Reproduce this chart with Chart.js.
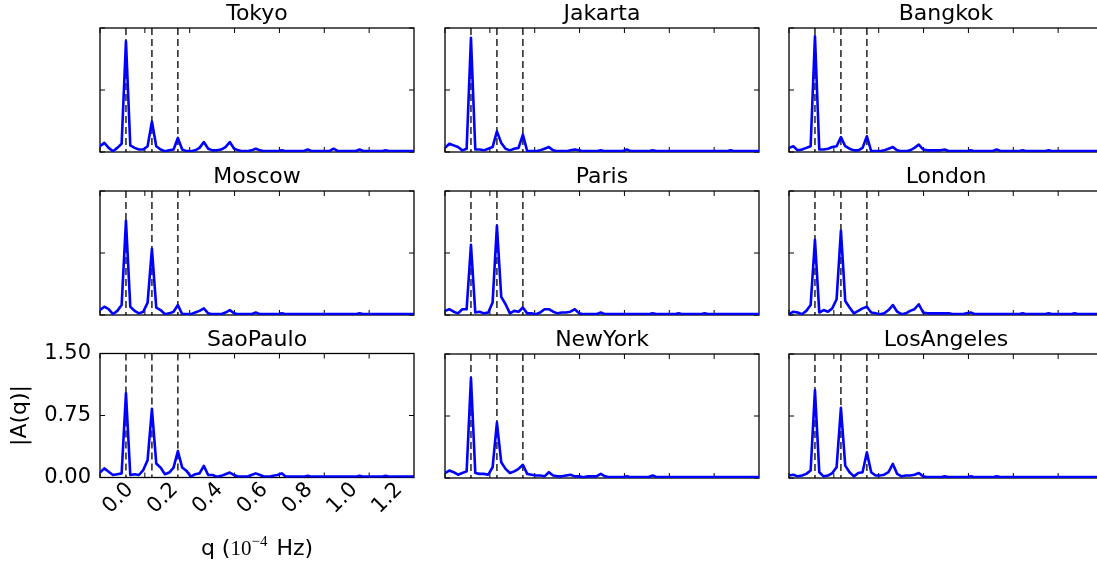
<!DOCTYPE html>
<html>
<head>
<meta charset="utf-8">
<script src="https://cdn.jsdelivr.net/npm/chart.js@4.4.0/dist/chart.umd.min.js"></script>
<style>
  html, body { margin: 0; padding: 0; background: #fff; overflow: hidden; }
  body { width: 1097px; height: 567px; position: relative; }
  canvas { position: absolute; }
</style>
</head>
<body>
<script>
// |A(q)| per city, one value per frequency bin (bin width = 1/6 cycle per day)
const cities = ['Tokyo', 'Jakarta', 'Bangkok', 'Moscow', 'Paris', 'London', 'SaoPaulo', 'NewYork', 'LosAngeles'];

const tokyo = [
    0.07, 0.11, 0.05, 0.01, 0.05, 0.10, 1.34, 0.08, 0.05, 0.03,
    0.03, 0.07, 0.37, 0.07, 0.03, 0.01, 0.02, 0.03, 0.17, 0.03,
    0.01, 0.01, 0.02, 0.05, 0.12, 0.04, 0.02, 0.02, 0.03, 0.06,
    0.12, 0.04, 0.02, 0.01, 0.01, 0.02, 0.04, 0.02, 0.01, 0.01,
    0.01, 0.01, 0.02, 0.01, 0.01, 0.01, 0.01, 0.01, 0.03, 0.01,
    0.01, 0.01, 0.01, 0.01, 0.04, 0.01, 0.01, 0.01, 0.01, 0.01,
    0.03, 0.01, 0.01, 0.01, 0.01, 0.01, 0.02, 0.01, 0.01, 0.01,
    0.01, 0.01, 0.01, 0.01
];
const jakarta = [
    0.05, 0.10, 0.08, 0.06, 0.02, 0.04, 1.38, 0.03, 0.03, 0.02,
    0.04, 0.06, 0.25, 0.11, 0.04, 0.02, 0.04, 0.05, 0.21, 0.01,
    0.01, 0.01, 0.02, 0.04, 0.06, 0.02, 0.01, 0.01, 0.01, 0.02,
    0.03, 0.02, 0.01, 0.01, 0.01, 0.01, 0.02, 0.01, 0.01, 0.01,
    0.01, 0.01, 0.03, 0.01, 0.01, 0.01, 0.01, 0.01, 0.02, 0.01,
    0.01, 0.01, 0.01, 0.01, 0.01, 0.01, 0.01, 0.01, 0.01, 0.01,
    0.01, 0.01, 0.01, 0.01, 0.01, 0.01, 0.02, 0.01, 0.01, 0.01,
    0.01, 0.01, 0.01, 0.01
];
const bangkok = [
    0.05, 0.07, 0.02, 0.03, 0.05, 0.07, 1.40, 0.03, 0.03, 0.04,
    0.06, 0.07, 0.18, 0.07, 0.04, 0.02, 0.02, 0.05, 0.19, 0.01,
    0.01, 0.01, 0.02, 0.04, 0.06, 0.02, 0.01, 0.01, 0.02, 0.05,
    0.09, 0.03, 0.02, 0.02, 0.02, 0.02, 0.03, 0.01, 0.01, 0.01,
    0.01, 0.01, 0.02, 0.01, 0.01, 0.01, 0.01, 0.01, 0.03, 0.01,
    0.01, 0.01, 0.01, 0.01, 0.02, 0.01, 0.01, 0.01, 0.01, 0.01,
    0.02, 0.01, 0.01, 0.01, 0.01, 0.01, 0.01, 0.01, 0.01, 0.01,
    0.01, 0.01, 0.01, 0.01
];
const moscow = [
    0.06, 0.10, 0.07, 0.01, 0.05, 0.12, 1.14, 0.10, 0.05, 0.02,
    0.04, 0.15, 0.80, 0.09, 0.06, 0.01, 0.02, 0.04, 0.12, 0.01,
    0.01, 0.01, 0.03, 0.05, 0.08, 0.02, 0.01, 0.01, 0.01, 0.03,
    0.06, 0.02, 0.01, 0.01, 0.01, 0.01, 0.03, 0.01, 0.01, 0.01,
    0.01, 0.01, 0.02, 0.01, 0.01, 0.01, 0.01, 0.01, 0.01, 0.01,
    0.01, 0.01, 0.01, 0.01, 0.01, 0.01, 0.01, 0.01, 0.01, 0.01,
    0.02, 0.01, 0.01, 0.01, 0.01, 0.01, 0.01, 0.01, 0.01, 0.01,
    0.01, 0.01, 0.01, 0.01
];
const paris = [
    0.05, 0.07, 0.04, 0.02, 0.07, 0.07, 0.85, 0.03, 0.04, 0.02,
    0.03, 0.15, 1.08, 0.22, 0.13, 0.02, 0.05, 0.04, 0.09, 0.02,
    0.02, 0.01, 0.03, 0.07, 0.07, 0.04, 0.02, 0.03, 0.03, 0.04,
    0.07, 0.02, 0.01, 0.01, 0.01, 0.01, 0.03, 0.01, 0.01, 0.01,
    0.01, 0.01, 0.01, 0.01, 0.01, 0.01, 0.01, 0.01, 0.02, 0.01,
    0.01, 0.01, 0.01, 0.01, 0.02, 0.01, 0.01, 0.01, 0.01, 0.01,
    0.02, 0.01, 0.01, 0.01, 0.01, 0.01, 0.01, 0.01, 0.01, 0.01,
    0.01, 0.01, 0.01, 0.01
];
const london = [
    0.01, 0.04, 0.03, 0.01, 0.05, 0.12, 0.91, 0.03, 0.06, 0.04,
    0.08, 0.19, 1.02, 0.17, 0.09, 0.02, 0.05, 0.08, 0.10, 0.03,
    0.02, 0.01, 0.02, 0.06, 0.12, 0.04, 0.01, 0.02, 0.05, 0.07,
    0.13, 0.03, 0.02, 0.02, 0.02, 0.02, 0.02, 0.02, 0.01, 0.01,
    0.01, 0.02, 0.03, 0.01, 0.01, 0.01, 0.01, 0.01, 0.01, 0.01,
    0.01, 0.01, 0.01, 0.01, 0.02, 0.01, 0.01, 0.01, 0.01, 0.01,
    0.02, 0.01, 0.01, 0.01, 0.01, 0.01, 0.02, 0.01, 0.01, 0.01,
    0.01, 0.01, 0.01, 0.01
];
const saoPaulo = [
    0.06, 0.11, 0.07, 0.03, 0.04, 0.05, 1.02, 0.03, 0.04, 0.03,
    0.09, 0.21, 0.83, 0.17, 0.12, 0.04, 0.06, 0.12, 0.32, 0.12,
    0.08, 0.01, 0.04, 0.05, 0.14, 0.03, 0.03, 0.01, 0.02, 0.04,
    0.06, 0.03, 0.01, 0.01, 0.01, 0.03, 0.05, 0.03, 0.01, 0.01,
    0.02, 0.03, 0.05, 0.01, 0.01, 0.01, 0.01, 0.01, 0.02, 0.01,
    0.01, 0.01, 0.01, 0.01, 0.01, 0.01, 0.01, 0.01, 0.01, 0.01,
    0.02, 0.01, 0.01, 0.01, 0.01, 0.01, 0.02, 0.01, 0.01, 0.01,
    0.01, 0.01, 0.01, 0.01
];
const newYork = [
    0.06, 0.09, 0.07, 0.04, 0.06, 0.08, 1.21, 0.06, 0.05, 0.05,
    0.04, 0.13, 0.67, 0.19, 0.11, 0.06, 0.08, 0.11, 0.16, 0.05,
    0.04, 0.03, 0.03, 0.02, 0.07, 0.03, 0.02, 0.02, 0.03, 0.04,
    0.02, 0.02, 0.01, 0.02, 0.02, 0.02, 0.05, 0.02, 0.01, 0.01,
    0.01, 0.01, 0.02, 0.01, 0.01, 0.01, 0.01, 0.01, 0.03, 0.01,
    0.01, 0.01, 0.01, 0.01, 0.01, 0.01, 0.01, 0.01, 0.01, 0.01,
    0.01, 0.01, 0.01, 0.01, 0.01, 0.01, 0.01, 0.01, 0.01, 0.01,
    0.01, 0.01, 0.01, 0.01
];
const losAngeles = [
    0.03, 0.04, 0.02, 0.03, 0.05, 0.09, 1.06, 0.07, 0.02, 0.03,
    0.06, 0.13, 0.85, 0.15, 0.07, 0.02, 0.06, 0.07, 0.31, 0.07,
    0.03, 0.03, 0.04, 0.07, 0.17, 0.05, 0.02, 0.03, 0.03, 0.04,
    0.06, 0.02, 0.01, 0.01, 0.01, 0.01, 0.02, 0.01, 0.01, 0.01,
    0.01, 0.01, 0.02, 0.01, 0.01, 0.01, 0.01, 0.01, 0.02, 0.01,
    0.01, 0.01, 0.01, 0.01, 0.01, 0.01, 0.01, 0.01, 0.01, 0.01,
    0.01, 0.01, 0.01, 0.01, 0.01, 0.01, 0.01, 0.01, 0.01, 0.01,
    0.01, 0.01, 0.01, 0.01
];
const spectra = [tokyo, jakarta, bangkok, moscow, paris, london, saoPaulo, newYork, losAngeles];

const xTicks = [0.0, 0.2, 0.4, 0.6, 0.8, 1.0, 1.2];
const yTicks = [0, 0.75, 1.5];
const dailyLines = [1, 2, 3];       // cycles per day
const qPerDay = 1 / 8.64;           // 1 cycle/day in units of 1e-4 Hz
const binWidth = qPerDay / 6;

// panel boxes (page pixels)
const colLeft = [100, 444.5, 789];
const rowTop = [27.5, 191, 353.5];
const panelW = 314, panelH = 124;

const sans = '"DejaVu Sans", sans-serif';

const framePlugin = {
    id: 'frame',
    beforeDatasetsDraw(chart, args, opts) {
        const { ctx, chartArea: a, scales: { x, y } } = chart;
        ctx.save();
        // dashed lines at 1, 2, 3 cycles per day
        ctx.strokeStyle = '#111';
        ctx.lineWidth = 1.4;
        ctx.setLineDash([7, 4]);
        dailyLines.forEach(n => {
            const px = x.getPixelForValue(n * qPerDay);
            ctx.beginPath();
            ctx.moveTo(px, a.top);
            ctx.lineTo(px, a.bottom);
            ctx.stroke();
        });
        ctx.setLineDash([]);

        // inward tick marks on all four sides
        ctx.strokeStyle = '#000';
        ctx.lineWidth = 1;
        xTicks.forEach(v => {
            const px = x.getPixelForValue(v);
            ctx.beginPath();
            ctx.moveTo(px, a.top); ctx.lineTo(px, a.top + 5);
            ctx.moveTo(px, a.bottom); ctx.lineTo(px, a.bottom - 5);
            ctx.stroke();
        });
        yTicks.forEach(v => {
            const py = y.getPixelForValue(v);
            ctx.beginPath();
            ctx.moveTo(a.left, py); ctx.lineTo(a.left + 5, py);
            ctx.moveTo(a.right, py); ctx.lineTo(a.right - 5, py);
            ctx.stroke();
        });

        ctx.lineWidth = 1.3;
        ctx.strokeRect(a.left, a.top, a.right - a.left, a.bottom - a.top);
        ctx.restore();
    },
    afterDraw(chart, args, opts) {
        const { ctx, chartArea: a } = chart;
        ctx.save();
        ctx.fillStyle = '#000';
        ctx.font = '22px ' + sans;
        ctx.textAlign = 'center';
        ctx.textBaseline = 'alphabetic';
        ctx.fillText(opts.title, (a.left + a.right) / 2, a.top - 8);

        if (opts.xTitle) {
            // q (10^-4 Hz)
            const parts = [
                { t: 'q (', f: '22px ' + sans, dy: 0 },
                { t: '10', f: '21px "Liberation Serif", serif', dy: 0 },
                { t: '\u22124', f: '15px "Liberation Serif", serif', dy: -9 },
                { t: ' Hz)', f: '22px ' + sans, dy: 0 }
            ];
            let total = 0;
            parts.forEach(p => { ctx.font = p.f; p.w = ctx.measureText(p.t).width; total += p.w; });
            total += 2;
            let px = (a.left + a.right) / 2 - total / 2;
            const base = a.bottom + 77.5;
            ctx.textAlign = 'left';
            parts.forEach((p, i) => {
                ctx.font = p.f;
                ctx.fillText(p.t, px, base + p.dy);
                px += p.w + (i === 2 ? 2 : 0);
            });
        }
        ctx.restore();
    }
};

cities.forEach((city, i) => {
    const col = i % 3, row = Math.floor(i / 3);
    const labelled = (i === 6);
    const left = colLeft[col], top = rowTop[row];

    let cx, cy, cw, ch, padding;
    if (labelled) {
        cx = 0; cy = 330; cw = 430; ch = 237;
        padding = { left: 0, top: top - cy, right: cx + cw - (left + panelW), bottom: 0 };
    } else {
        cx = left - 12; cy = top - 30; cw = panelW + 24; ch = panelH + 40;
        padding = { left: 12, top: 30, right: 12, bottom: 10 };
    }

    const canvas = document.createElement('canvas');
    canvas.width = cw; canvas.height = ch;
    canvas.style.left = cx + 'px'; canvas.style.top = cy + 'px';
    canvas.style.width = cw + 'px'; canvas.style.height = ch + 'px';
    document.body.appendChild(canvas);

    const points = spectra[i].map((v, k) => ({ x: k * binWidth, y: v }));

    const xScale = {
        type: 'linear', min: 0, max: 1.4,
        display: labelled,
        grid: { display: false, drawTicks: false },
        border: { display: false },
        afterBuildTicks: ax => { ax.ticks = xTicks.map(v => ({ value: v })); },
        ticks: {
            autoSkip: false, minRotation: 45, maxRotation: 45,
            labelOffset: 30, padding: 0, color: '#000',
            font: { family: sans, size: 21 },
            callback: v => v.toFixed(1)
        }
    };
    const yScale = {
        type: 'linear', min: 0, max: 1.5,
        display: labelled,
        grid: { display: false, drawTicks: false },
        border: { display: false },
        afterBuildTicks: ax => { ax.ticks = yTicks.map(v => ({ value: v })); },
        ticks: {
            padding: 9, color: '#000',
            font: { family: sans, size: 21 },
            callback: v => v.toFixed(2)
        },
        title: {
            display: true, text: '|A(q)|', color: '#000',
            font: { family: sans, size: 22 },
            padding: { top: 7, bottom: 0 }
        }
    };
    if (labelled) {
        const axisH = cy + ch - (top + panelH);
        xScale.afterFit = ax => { ax.height = axisH; };
        yScale.afterFit = ax => { ax.width = left - cx; };
    }

    new Chart(canvas.getContext('2d'), {
        type: 'line',
        data: {
            datasets: [{
                data: points,
                borderColor: '#0000ff',
                borderWidth: 2.6,
                borderJoinStyle: 'round',
                pointRadius: 0,
                tension: 0,
                fill: false
            }]
        },
        options: {
            responsive: false,
            animation: false,
            events: [],
            layout: { padding: padding },
            plugins: {
                legend: { display: false },
                tooltip: { enabled: false },
                frame: { title: city, xTitle: labelled }
            },
            scales: { x: xScale, y: yScale }
        },
        plugins: [framePlugin]
    });
});
</script>
</body>
</html>
